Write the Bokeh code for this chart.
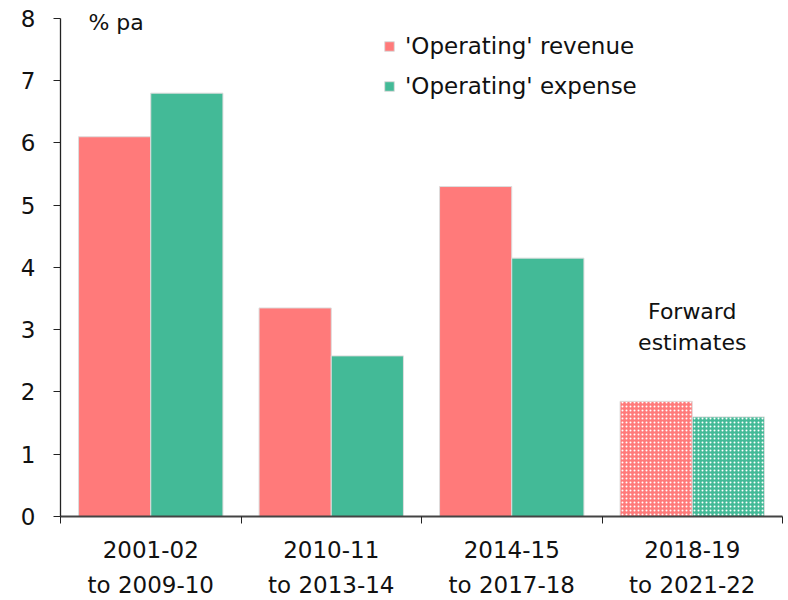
from bokeh.plotting import figure
from bokeh.models import FixedTicker, Range1d, Legend, LegendItem, ColumnDataSource
from bokeh.core.properties import value
from bokeh.embed import file_html
from bokeh.resources import INLINE

categories = ["2001-02\nto 2009-10", "2010-11\nto 2013-14", "2014-15\nto 2017-18", "2018-19\nto 2021-22"]
revenue = [6.1, 3.35, 5.3, 1.85]
expense = [6.8, 2.58, 4.15, 1.6]
forward = [False, False, False, True]
y_ticks = [0, 1, 2, 3, 4, 5, 6, 7, 8]
series_names = ["'Operating' revenue", "'Operating' expense"]
unit_label = "% pa"
fe_label = "Forward\nestimates"

RED = "#FF7A7A"
GREEN = "#43BA97"
FONT = "DejaVu Sans"

p = figure(width=784, height=600, output_backend="svg", toolbar_location=None,
           x_range=Range1d(0, 4), y_range=Range1d(0, 8.208),
           min_border_left=60, min_border_right=2, min_border_top=5, min_border_bottom=83)
p.outline_line_color = None
p.xgrid.visible = False
p.ygrid.visible = False

idx = list(range(len(categories)))
solid = [i for i in idx if not forward[i]]
hatched = [i for i in idx if forward[i]]

def src(ids, off, vals):
    return ColumnDataSource(dict(x=[i + off for i in ids], top=[vals[i] for i in ids]))

r1 = p.vbar(x="x", top="top", width=0.4, source=src(solid, 0.3, revenue),
            fill_color=RED, line_color="#dddddd", line_width=1)
r2 = p.vbar(x="x", top="top", width=0.4, source=src(solid, 0.7, expense),
            fill_color=GREEN, line_color="#dddddd", line_width=1)
p.vbar(x="x", top="top", width=0.4, source=src(hatched, 0.3, revenue),
       fill_color=RED, line_color="#dddddd", line_width=1,
       hatch_pattern="dot", hatch_color="white", hatch_scale=4, hatch_weight=2.2)
p.vbar(x="x", top="top", width=0.4, source=src(hatched, 0.7, expense),
       fill_color=GREEN, line_color="#dddddd", line_width=1,
       hatch_pattern="dot", hatch_color="white", hatch_scale=4, hatch_weight=2.2)

# y axis
ya = p.yaxis[0]
ya.ticker = FixedTicker(ticks=y_ticks)
ya.bounds = (0, 8)
ya.major_tick_in = 0
ya.major_tick_out = 7
ya.minor_tick_line_color = None
ya.axis_line_color = "#222222"
ya.major_tick_line_color = "#222222"
ya.axis_line_width = 1.3
ya.major_label_text_font = FONT
ya.major_label_text_font_size = "23px"
ya.major_label_text_color = "#111111"
ya.major_label_standoff = 18

# x axis
xa = p.xaxis[0]
xa.ticker = FixedTicker(ticks=[i + 0.5 for i in idx], minor_ticks=[0, 1, 2, 3, 4])
xa.major_label_overrides = {i + 0.5: categories[i] for i in idx}
xa.major_tick_in = 0
xa.major_tick_out = 0
xa.minor_tick_in = 0
xa.minor_tick_out = 7
xa.minor_tick_line_color = "#222222"
xa.axis_line_color = "#444444"
xa.axis_line_width = 2
xa.major_label_text_font = FONT
xa.major_label_text_font_size = "23px"
xa.major_label_text_color = "#111111"
xa.major_label_text_line_height = 1.35
xa.major_label_standoff = 13

p.text(x=[0.155], y=[7.94], text=[unit_label], text_font=value(FONT), text_font_size="22px",
       text_baseline="middle", text_align="left", text_color="#111111")
p.text(x=[3.5], y=[3.04], text=[fe_label], text_font=value(FONT), text_font_size="22px",
       text_baseline="middle", text_align="center", text_color="#111111", text_line_height=1.25)

legend = Legend(items=[LegendItem(label=series_names[0], renderers=[r1]),
                       LegendItem(label=series_names[1], renderers=[r2])],
                location=(323, 417), orientation="vertical")
legend.background_fill_alpha = 0
legend.border_line_color = None
legend.glyph_width = 12
legend.glyph_height = 12
legend.label_text_font = FONT
legend.label_text_font_size = "23px"
legend.label_text_color = "#111111"
legend.spacing = 14
legend.padding = 0
legend.margin = 0
legend.label_standoff = 10
p.add_layout(legend, "center")

open("out.html", "w").write(file_html(p, INLINE))
